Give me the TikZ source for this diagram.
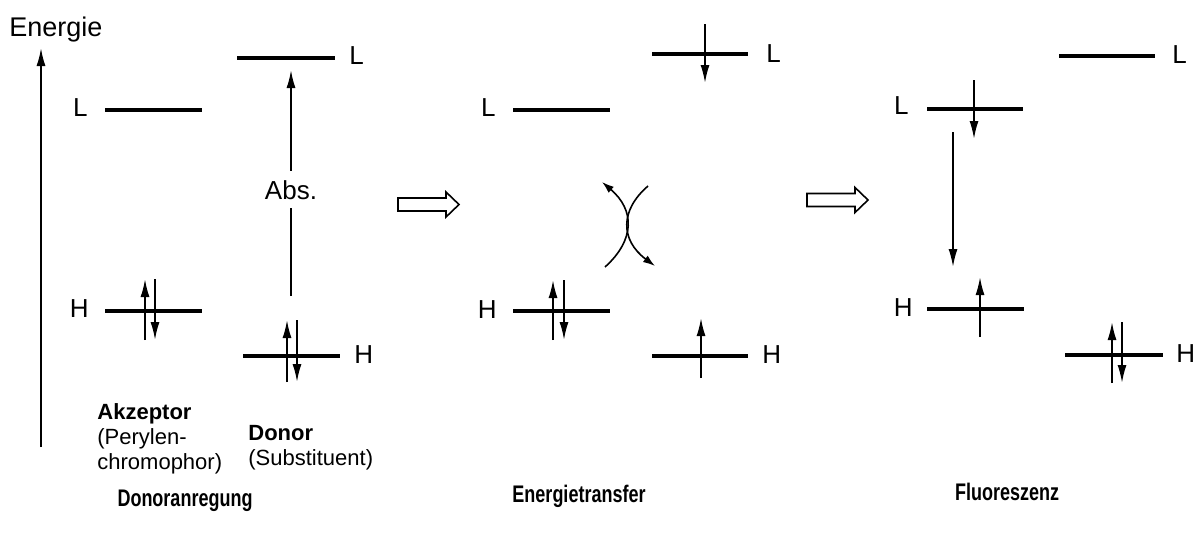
\documentclass[tikz,border=0pt]{standalone}
\usepackage{fontspec}
\setmainfont{Liberation Sans}
\newfontfamily\schmal[FakeStretch=0.75]{Liberation Sans}
\usetikzlibrary{arrows.meta}

\begin{document}
\begin{tikzpicture}[x=0.5pt, y=-0.5pt,
    niveau/.style={line width=1.8pt},
    spin/.style={line width=0.9pt, -{Latex[length=9pt, width=4.5pt]}},
    kurve/.style={line width=0.8pt, -{Latex[length=6pt, width=4pt]}},
    hohl/.style={line width=0.8pt, fill=white},
    lab/.style={font=\fontsize{13}{15}\selectfont, inner sep=0pt},
    txt/.style={font=\fontsize{11}{12.5}\selectfont, inner sep=0pt, align=left},
    titel/.style={font=\schmal\fontsize{12}{14}\selectfont\bfseries, inner sep=0pt}
  ]
\useasboundingbox (0,0) rectangle (1197,542);

% Energieachse
\node[lab, font=\fontsize{13.5}{15}\selectfont, anchor=base west] (energie) at (9,36) {Energie};
\coordinate (achse0) at (41,447);
\coordinate (achse1) at (41,48);
\draw[spin] (achse0) -- (achse1);

% Donoranregung
\node[lab, anchor=east] (aL1) at (88,108) {L};
\draw[niveau] (105,110) -- (202,110);
\node[lab, anchor=east] (aH1) at (89,309) {H};
\draw[niveau] (105,311) -- (202,311);
\draw[spin] (145,340) -- (145,279);
\draw[spin] (155,279) -- (155,340);
\draw[niveau] (237,58) -- (335,58);
\node[lab, anchor=west] (dL1) at (349,56) {L};
\draw[niveau] (243,356) -- (340,356);
\node[lab, anchor=west] (dH1) at (354,355) {H};
\draw[spin] (287,382) -- (287,320);
\draw[spin] (297,320) -- (297,382);
\coordinate (abs0) at (291,296);
\coordinate (abs1) at (291,70);
\draw[spin] (abs0) -- node[lab, fill=white, inner sep=4.5pt, pos=0.47] (abs) {Abs.} (abs1);
\node[txt, anchor=north west] (akz) at (97,403) {\textbf{Akzeptor}\\(Perylen-\\chromophor)};
\node[txt, anchor=north west] (don) at (248,425) {\textbf{Donor}\\(Substituent)};
\node[titel, anchor=base] (t1) at (185,506) {Donoranregung};

\draw[hohl] (398,198) -- (446,198) -- (446,192) -- (459,204.5) -- (446,217) -- (446,211) -- (398,211) -- cycle;

% Energietransfer
\node[lab, anchor=east] (aL2) at (496,108) {L};
\draw[niveau] (513,110) -- (610,110);
\node[lab, anchor=east] (aH2) at (497,310) {H};
\draw[niveau] (513,311) -- (610,311);
\draw[spin] (553,340) -- (553,280);
\draw[spin] (564,280) -- (564,340);
\draw[niveau] (652,54) -- (748,54);
\node[lab, anchor=west] (dL2) at (766,54) {L};
\draw[spin] (705,24) -- (705,83);
\draw[niveau] (652,356) -- (748,356);
\node[lab, anchor=west] (dH2) at (762,355) {H};
\draw[spin] (701,378) -- (701,318);
\draw[kurve] (605,267) .. controls (635,240) and (635,210) .. (602,182);
\draw[kurve] (648,186) .. controls (620,210) and (620,240) .. (655,266);
\node[titel, anchor=base] (t2) at (579,502) {Energietransfer};

\draw[hohl] (807,193.5) -- (855,193.5) -- (855,187.5) -- (868,200) -- (855,212.5) -- (855,206.5) -- (807,206.5) -- cycle;

% Fluoreszenz
\node[lab, anchor=east] (aL3) at (909,106) {L};
\draw[niveau] (927,109) -- (1023,109);
\draw[spin] (974,80) -- (974,139);
\node[lab, anchor=east] (aH3) at (913,308) {H};
\draw[niveau] (927,309) -- (1024,309);
\draw[spin] (980,337) -- (980,277);
\draw[niveau] (1059,56) -- (1155,56);
\node[lab, anchor=west] (dL3) at (1172,55) {L};
\draw[niveau] (1065,355) -- (1163,355);
\node[lab, anchor=west] (dH3) at (1176,354) {H};
\draw[spin] (1112,383) -- (1112,322);
\draw[spin] (1122,322) -- (1122,383);
\coordinate (fl0) at (953,132);
\coordinate (fl1) at (953,267);
\draw[spin] (fl0) -- (fl1);
\node[titel, anchor=base] (t3) at (1007,500) {Fluoreszenz};
\end{tikzpicture}
\end{document}
